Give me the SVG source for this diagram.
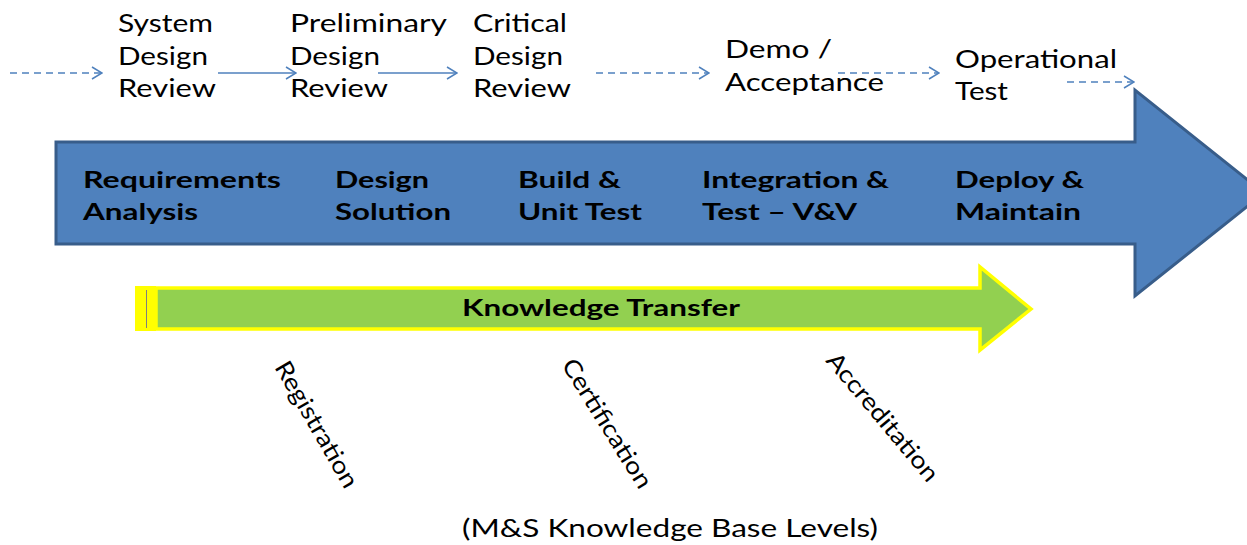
<svg xmlns="http://www.w3.org/2000/svg" width="1247" height="545" viewBox="0 0 1247 545">
<defs>
<style>
text{font-family:Lato,"Open Sans","Liberation Sans",sans-serif;fill:#000}
.lbl{font-size:25px}
.bld{font-size:22.5px;font-weight:bold}
.rot{font-size:24px}
.cn{stroke:#4F81BD;stroke-width:1.5;fill:none}
.dash{stroke-dasharray:7,5}
</style>
<marker id="ah" viewBox="0 0 12 14" refX="11" refY="7" markerWidth="12" markerHeight="14" markerUnits="userSpaceOnUse" orient="auto">
<path d="M1,1 L11,7 L1,13" fill="none" stroke="#4F81BD" stroke-width="1.5"/>
</marker>
</defs>
<rect width="1247" height="545" fill="#fff"/>
<g id="phase-arrow">
<path d="M56,142 H1135 V90 L1264,193 L1135,296 V244 H56 Z" fill="#4F81BD" stroke="#385D8A" stroke-width="3"/>
</g>
<g id="knowledge-transfer">
<rect x="135" y="286" width="21" height="45" fill="#FFFF00"/>
<line x1="146.5" y1="290" x2="146.5" y2="328" stroke="#7F7F7F" stroke-width="1"/>
<path d="M156,288 H980 V267 L1031,309 L980,350 V329 H156 Z" fill="#92D050" stroke="#FFFF00" stroke-width="3.5"/>
<text class="bld" x="462" y="316" textLength="278" lengthAdjust="spacingAndGlyphs">Knowledge Transfer</text>
</g>
<g id="connectors">
<line class="cn dash" x1="10" y1="73" x2="102" y2="73" marker-end="url(#ah)"/>
<line class="cn" x1="218" y1="73" x2="296" y2="73" marker-end="url(#ah)"/>
<line class="cn" x1="378" y1="73" x2="457" y2="73" marker-end="url(#ah)"/>
<line class="cn dash" x1="596" y1="73" x2="709" y2="73" marker-end="url(#ah)"/>
<line class="cn dash" x1="838" y1="73" x2="939" y2="73" marker-end="url(#ah)"/>
<line class="cn dash" x1="1067" y1="82" x2="1134" y2="82" marker-end="url(#ah)"/>
</g>
<g id="sdr">
<text class="lbl" x="118" y="32" textLength="95" lengthAdjust="spacingAndGlyphs">System</text>
<text class="lbl" x="118" y="65" textLength="90" lengthAdjust="spacingAndGlyphs">Design</text>
<text class="lbl" x="118" y="97" textLength="98" lengthAdjust="spacingAndGlyphs">Review</text>
</g>
<g id="pdr">
<text class="lbl" x="290" y="32" textLength="157" lengthAdjust="spacingAndGlyphs">Preliminary</text>
<text class="lbl" x="290" y="65" textLength="90" lengthAdjust="spacingAndGlyphs">Design</text>
<text class="lbl" x="290" y="97" textLength="98" lengthAdjust="spacingAndGlyphs">Review</text>
</g>
<g id="cdr">
<text class="lbl" x="473" y="32" textLength="94" lengthAdjust="spacingAndGlyphs">Critical</text>
<text class="lbl" x="473" y="65" textLength="90" lengthAdjust="spacingAndGlyphs">Design</text>
<text class="lbl" x="473" y="97" textLength="98" lengthAdjust="spacingAndGlyphs">Review</text>
</g>
<g id="demo">
<text class="lbl" x="725" y="58" textLength="107" lengthAdjust="spacingAndGlyphs">Demo /</text>
<text class="lbl" x="725" y="91" textLength="159" lengthAdjust="spacingAndGlyphs">Acceptance</text>
</g>
<g id="optest">
<text class="lbl" x="955" y="68" textLength="162" lengthAdjust="spacingAndGlyphs">Operational</text>
<text class="lbl" x="955" y="100" textLength="53" lengthAdjust="spacingAndGlyphs">Test</text>
</g>
<g id="req">
<text class="bld" x="83" y="188" textLength="198" lengthAdjust="spacingAndGlyphs">Requirements</text>
<text class="bld" x="83" y="220" textLength="115" lengthAdjust="spacingAndGlyphs">Analysis</text>
</g>
<g id="design">
<text class="bld" x="335" y="188" textLength="94" lengthAdjust="spacingAndGlyphs">Design</text>
<text class="bld" x="335" y="220" textLength="116" lengthAdjust="spacingAndGlyphs">Solution</text>
</g>
<g id="build">
<text class="bld" x="518" y="188" textLength="103" lengthAdjust="spacingAndGlyphs">Build &amp;</text>
<text class="bld" x="518" y="220" textLength="124" lengthAdjust="spacingAndGlyphs">Unit Test</text>
</g>
<g id="integ">
<text class="bld" x="702" y="188" textLength="187" lengthAdjust="spacingAndGlyphs">Integration &amp;</text>
<text class="bld" x="702" y="220" textLength="155" lengthAdjust="spacingAndGlyphs">Test – V&amp;V</text>
</g>
<g id="deploy">
<text class="bld" x="955" y="188" textLength="129" lengthAdjust="spacingAndGlyphs">Deploy &amp;</text>
<text class="bld" x="955" y="220" textLength="126" lengthAdjust="spacingAndGlyphs">Maintain</text>
</g>
<g id="registration"><text class="rot" transform="translate(274,367) rotate(60)" textLength="142" lengthAdjust="spacingAndGlyphs">Registration</text></g>
<g id="certification"><text class="rot" transform="translate(561,365) rotate(58)" textLength="148" lengthAdjust="spacingAndGlyphs">Certification</text></g>
<g id="accreditation"><text class="rot" transform="translate(825,361) rotate(50)" textLength="160" lengthAdjust="spacingAndGlyphs">Accreditation</text></g>
<g id="kb-levels"><text class="lbl" x="462" y="537" textLength="416" lengthAdjust="spacingAndGlyphs">(M&amp;S Knowledge Base Levels)</text></g>
</svg>
